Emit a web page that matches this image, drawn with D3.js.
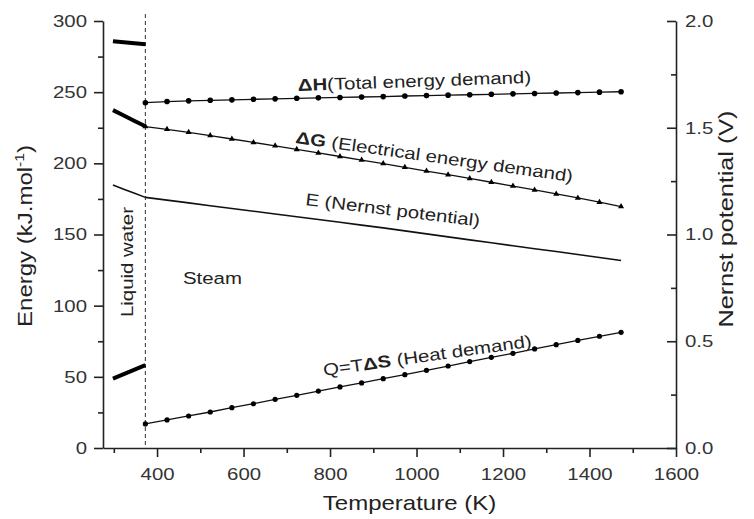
<!DOCTYPE html>
<html>
<head>
<meta charset="utf-8">
<script src="https://cdn.jsdelivr.net/npm/d3@7"></script>
<style>
  html, body { margin: 0; padding: 0; background: #fff; }
  svg { display: block; }
  text { font-family: "Liberation Sans", Arial, Helvetica, sans-serif; }
</style>
</head>
<body>
<svg id="chart" width="754" height="519"></svg>
<script>
// ---------------- data ----------------
const liquidT = [298, 323, 348, 373];
const dH_liquid = [285.8, 285.1, 284.4, 283.7];
const dG_liquid = [237.4, 233.6, 229.8, 226.0];
const Q_liquid  = [48.8, 51.9, 55.0, 58.2];
const E_liquid  = [1.232, 1.212, 1.193, 1.174];

const steamT = [373, 423, 473, 523, 573, 623, 673, 723, 773, 823, 873, 923,
                973, 1023, 1073, 1123, 1173, 1223, 1273, 1323, 1373, 1423, 1473];
const dH_steam = [242.6, 243.4, 243.9, 244.3, 244.6, 245.0, 245.3, 245.7, 246.0, 246.3, 246.6, 246.9,
                  247.3, 247.6, 247.9, 248.2, 248.5, 248.8, 249.1, 249.4, 249.7, 250.0, 250.3];
const dG_steam = [225.8, 223.9, 221.8, 219.5, 217.1, 214.7, 212.3, 209.8, 207.3, 204.8, 202.3, 199.8,
                  197.2, 194.6, 192.0, 189.4, 186.7, 184.0, 181.3, 178.5, 175.7, 172.7, 169.6];
const Q_steam  = [16.9, 19.7, 22.5, 25.3, 28.3, 31.1, 34.2, 37.0, 40.0, 42.9, 45.7, 48.7,
                  51.5, 54.6, 57.6, 60.7, 63.7, 66.5, 69.6, 72.6, 75.6, 78.5, 81.3];
const E_steam  = [1.174, 1.161, 1.148, 1.135, 1.122, 1.109, 1.096, 1.083, 1.070, 1.057, 1.044, 1.031,
                  1.017, 1.003, 0.989, 0.975, 0.961, 0.947, 0.933, 0.920, 0.906, 0.892, 0.878];

const boilingT = 373;
const xMajorTicks = [400, 600, 800, 1000, 1200, 1400, 1600];
const xMinorTicks = [300, 500, 700, 900, 1100, 1300, 1500];
const yLeftMajor = [0, 50, 100, 150, 200, 250, 300];
const yLeftMinor = [25, 75, 125, 175, 225, 275];
const yRightMajor = [0.0, 0.5, 1.0, 1.5, 2.0];
const yRightMinor = [0.25, 0.75, 1.25, 1.75];

// ---------------- layout ----------------
const SX = 1.2; // horizontal stretch of glyphs in the reference
const L = 103, R = 676, T = 21, B = 448;
const svg = d3.select("#chart");

const x = d3.scaleLinear().domain([275, 1600]).range([L, R]);
const yL = d3.scaleLinear().domain([0, 300]).range([B, T]);
const yR = d3.scaleLinear().domain([0, 2]).range([B, T]);

const axisColor = "#222";
const labelColor = "#333";

function styleAxis(g, fs) {
  g.selectAll("path.domain").attr("stroke", axisColor).attr("stroke-width", 1.6);
  g.selectAll(".tick line").attr("stroke", axisColor).attr("stroke-width", 1.6);
  g.selectAll(".tick text").attr("fill", labelColor).attr("font-size", fs)
    .attr("font-family", "Liberation Sans, Arial, sans-serif")
    .each(function () {
      const t = d3.select(this);
      const xx = +t.attr("x") || 0;
      t.attr("x", xx / SX).attr("transform", `scale(${SX},1)`);
    });
}

// bottom axis
const gxMinor = svg.append("g").attr("transform", `translate(0,${B})`)
  .call(d3.axisBottom(x).tickValues(xMinorTicks).tickSize(5).tickFormat("").tickSizeOuter(0));
gxMinor.select("path.domain").remove();
gxMinor.selectAll(".tick line").attr("stroke", axisColor).attr("stroke-width", 1.6);
const gx = svg.append("g").attr("transform", `translate(0,${B})`)
  .call(d3.axisBottom(x).tickValues(xMajorTicks).tickSize(9).tickPadding(11)
    .tickFormat(d3.format("d")).tickSizeOuter(0));
styleAxis(gx, 17);

// left axis
const gyMinor = svg.append("g").attr("transform", `translate(${L},0)`)
  .call(d3.axisLeft(yL).tickValues(yLeftMinor).tickSize(5).tickFormat("").tickSizeOuter(0));
gyMinor.select("path.domain").remove();
gyMinor.selectAll(".tick line").attr("stroke", axisColor).attr("stroke-width", 1.6);
const gy = svg.append("g").attr("transform", `translate(${L},0)`)
  .call(d3.axisLeft(yL).tickValues(yLeftMajor).tickSize(9).tickPadding(7)
    .tickFormat(d3.format("d")).tickSizeOuter(0));
styleAxis(gy, 17);

// right axis (ticks point inward)
const gyrMinor = svg.append("g").attr("transform", `translate(${R},0)`)
  .call(d3.axisRight(yR).tickValues(yRightMinor).tickSize(-5).tickFormat("").tickSizeOuter(0));
gyrMinor.select("path.domain").remove();
gyrMinor.selectAll(".tick line").attr("stroke", axisColor).attr("stroke-width", 1.6);
const gyr = svg.append("g").attr("transform", `translate(${R},0)`)
  .call(d3.axisRight(yR).tickValues(yRightMajor).tickSize(-9).tickPadding(9)
    .tickFormat(d3.format(".1f")).tickSizeOuter(0));
styleAxis(gyr, 17);

// boiling point dashed line
svg.append("line")
  .attr("x1", x(boilingT)).attr("x2", x(boilingT))
  .attr("y1", yL(305)).attr("y2", yL(0))
  .attr("stroke", "#444").attr("stroke-width", 1.1).attr("stroke-dasharray", "4,3");

// ---------------- series ----------------
const lineL = d3.line().x(d => x(d[0])).y(d => yL(d[1]));
const lineR = d3.line().x(d => x(d[0])).y(d => yR(d[1]));
const zip = (a, b) => a.map((v, i) => [v, b[i]]);

// liquid water (thick)
[dH_liquid, dG_liquid, Q_liquid].forEach(arr => {
  svg.append("path").datum(zip(liquidT, arr)).attr("d", lineL)
    .attr("fill", "none").attr("stroke", "#000").attr("stroke-width", 4);
});
svg.append("path").datum(zip(liquidT, E_liquid)).attr("d", lineR)
  .attr("fill", "none").attr("stroke", "#111").attr("stroke-width", 1.5);

// steam lines
[dH_steam, dG_steam, Q_steam].forEach(arr => {
  svg.append("path").datum(zip(steamT, arr)).attr("d", lineL)
    .attr("fill", "none").attr("stroke", "#111").attr("stroke-width", 1.3);
});
svg.append("path").datum(zip(steamT, E_steam)).attr("d", lineR)
  .attr("fill", "none").attr("stroke", "#111").attr("stroke-width", 1.6);

// markers
svg.append("g").selectAll("circle").data(zip(steamT, dH_steam)).join("circle")
  .attr("cx", d => x(d[0])).attr("cy", d => yL(d[1])).attr("r", 2.8).attr("fill", "#000");
svg.append("g").selectAll("circle").data(zip(steamT, Q_steam)).join("circle")
  .attr("cx", d => x(d[0])).attr("cy", d => yL(d[1])).attr("r", 2.6).attr("fill", "#000");
const tri = d3.symbol().type(d3.symbolTriangle).size(16);
svg.append("g").selectAll("path").data(zip(steamT, dG_steam)).join("path")
  .attr("transform", d => `translate(${x(d[0])},${yL(d[1])})`)
  .attr("d", tri).attr("fill", "#000");

// ---------------- text ----------------
function label(px, py, angle, parts, fs) {
  const t = svg.append("text")
    .attr("transform", `translate(${px},${py}) rotate(${angle}) scale(${SX},1)`)
    .attr("font-size", fs).attr("fill", "#222");
  parts.forEach(p => {
    t.append("tspan").text(p[0]).attr("font-weight", p[1] ? "bold" : "normal");
  });
  return t;
}

label(298, 91, -2, [["ΔH", true], ["(Total energy demand)", false]], 17);
label(295, 143, 8, [["ΔG", true], [" (Electrical energy demand)", false]], 17);
label(305, 205, 7, [["E (Nernst potential)", false]], 17);
label(324, 376, -8, [["Q=T", false], ["ΔS", true], [" (Heat demand)", false]], 17);
label(183, 284, 0, [["Steam", false]], 17);

// Liquid water (vertical)
label(133, 317, -90, [["Liquid water", false]], 17);

// axis titles
svg.append("text")
  .attr("transform", `translate(${(L + R) / 2 + 20},510) scale(${SX},1)`)
  .attr("text-anchor", "middle").attr("font-size", 20).attr("fill", "#222")
  .text("Temperature (K)");

const ylab = svg.append("text")
  .attr("transform", `translate(32,236) rotate(-90) scale(${SX},1)`)
  .attr("text-anchor", "middle").attr("font-size", 20).attr("fill", "#222");
ylab.append("tspan").text("Energy (kJ.mol");
ylab.append("tspan").text("-1").attr("font-size", 13).attr("dy", -8);
ylab.append("tspan").text(")").attr("dy", 8);

svg.append("text")
  .attr("transform", `translate(733,219) rotate(-90) scale(${SX},1)`)
  .attr("text-anchor", "middle").attr("font-size", 21).attr("fill", "#222")
  .text("Nernst potential (V)");
</script>
</body>
</html>
